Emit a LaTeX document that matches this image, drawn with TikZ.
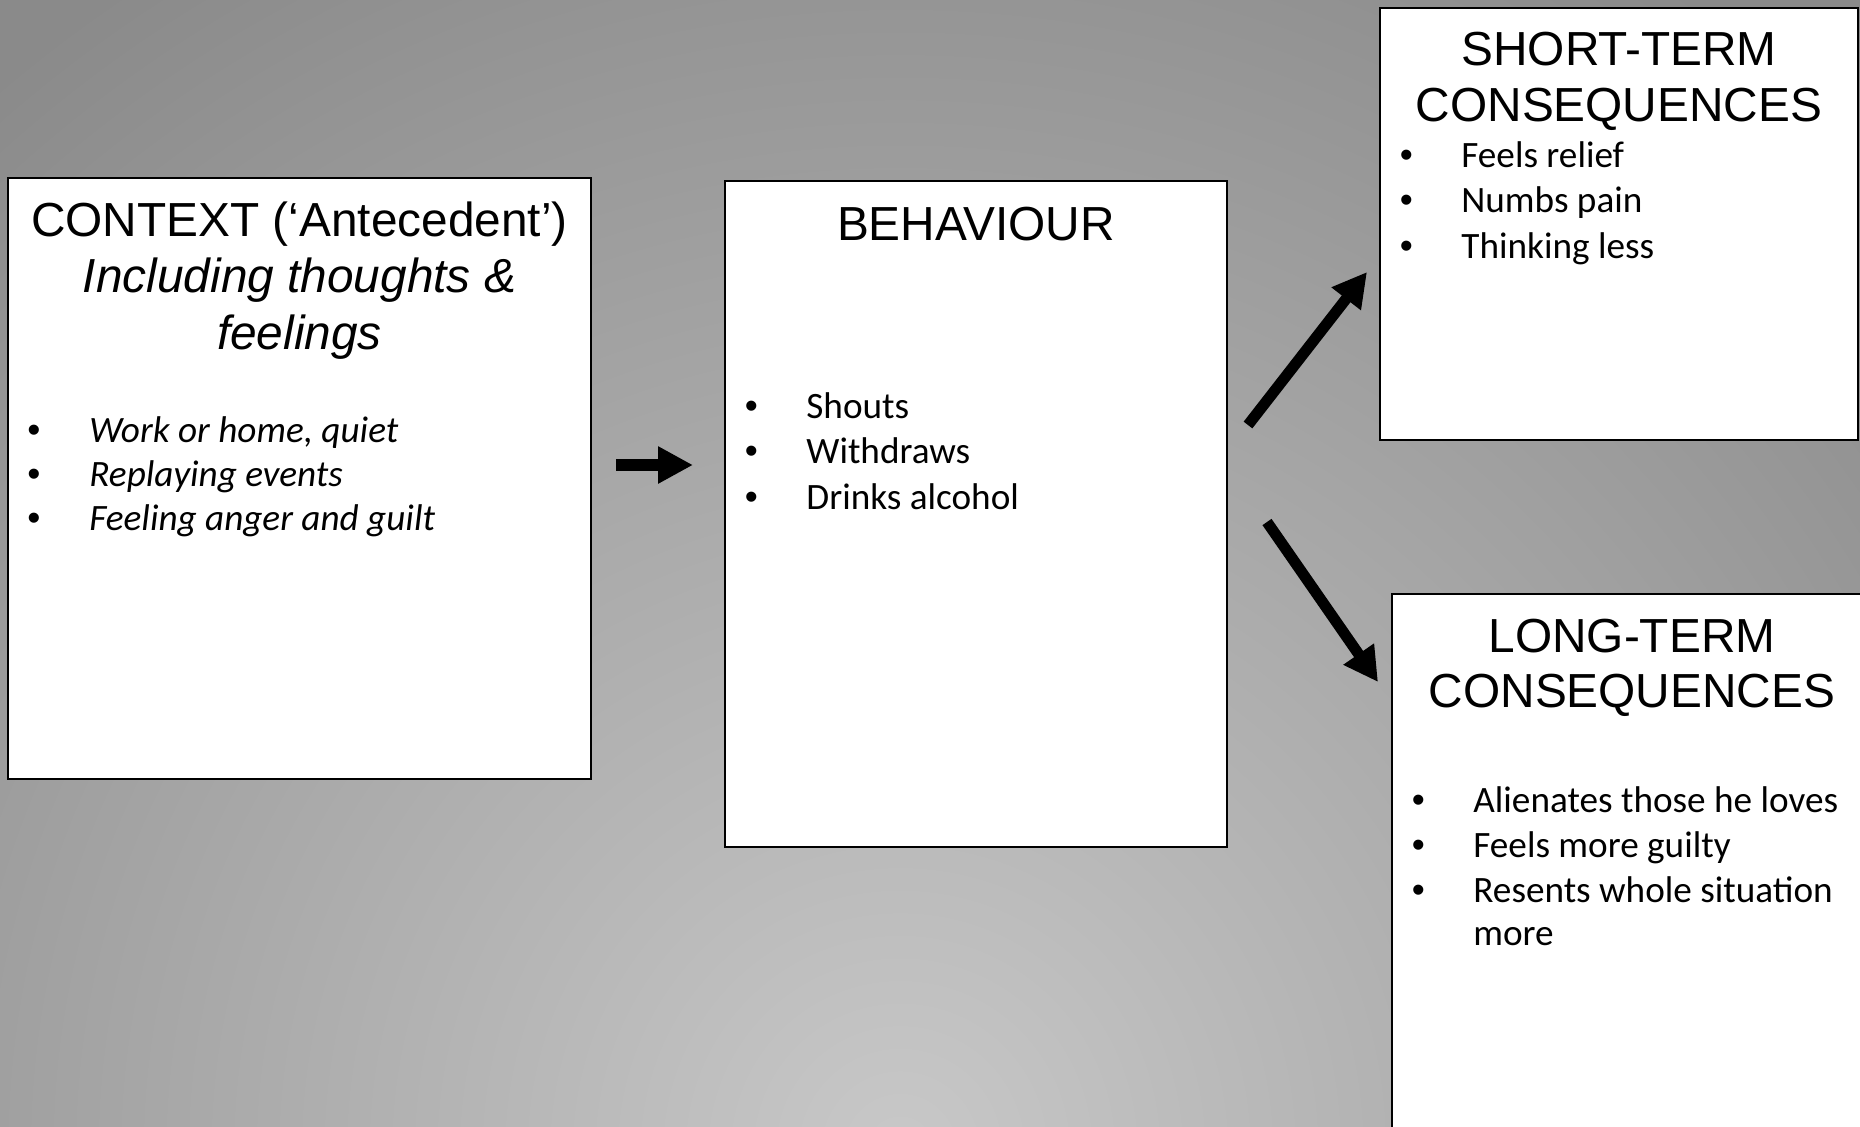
\documentclass[tikz,border=0pt]{standalone}
\usepackage{fontspec}
\setmainfont{Carlito}
\newfontfamily\headfont{Liberation Sans}
\usetikzlibrary{arrows.meta,calc}

\definecolor{bglight}{HTML}{C8C8C8}
\definecolor{bgdark}{HTML}{8A8A8A}

\newcommand{\bul}{\llap{\makebox[0pt][c]{\headfont\textbullet}\hspace{27.5pt}}}

\tikzset{
  box/.style={draw=black, line width=1.4pt, fill=white, anchor=north west, inner sep=0pt, outer sep=0pt},
  head/.style={font=\headfont\fontsize{23.9pt}{28pt}\selectfont, anchor=base, inner sep=0pt},
  headit/.style={head, font=\headfont\itshape\fontsize{23.9pt}{28pt}\selectfont},
  item/.style={font=\fontsize{18.6pt}{22pt}\selectfont, anchor=base west, inner sep=0pt},
  itemit/.style={item, font=\itshape\fontsize{18.6pt}{22pt}\selectfont},
  fatarrow/.style={line width=6pt, -{Triangle[length=17.5pt, width=17.5pt]}},
  slantarrow/.style={line width=5.5pt, -{Triangle[length=17pt, width=17.5pt]}}
}

\begin{document}
\begin{tikzpicture}[x=0.5pt, y=-0.5pt]
    \useasboundingbox (0,0) rectangle (1860,1126);
    \clip (0,0) rectangle (1860,1126);

    % grey background
    \fill[bgdark] (0,0) rectangle (1860,1126);
    \shade[inner color=bglight, outer color=bgdark] (900,1150) circle (1400);

    % Context box
    \node[box, minimum width=291.5pt, minimum height=300.5pt] (ctx) at (8,178) {};
    \node[head] (ctxh1) at ($(ctx.north)+(0,58)$) {CONTEXT (‘Antecedent’)};
    \node[headit] (ctxh2) at ($(ctx.north)+(0,114.5)$) {Including thoughts \&};
    \node[headit] (ctxh3) at ($(ctx.north)+(0,171)$) {feelings};
    \foreach \t [count=\i] in {{Work or home, quiet}, Replaying events, Feeling anger and guilt}
        \node[itemit] (ctx\i) at ($(ctx.north west)+(81,{220+44*\i})$) {\bul\t};

    % Behaviour box
    \node[box, minimum width=251pt, minimum height=333pt] (beh) at (725,181) {};
    \node[head] (behh) at ($(beh.north)+(0,59)$) {BEHAVIOUR};
    \foreach \t [count=\i] in {Shouts, Withdraws, Drinks alcohol}
        \node[item] (beh\i) at ($(beh.north west)+(81,{191.5+45.5*\i})$) {\bul\t};

    % Short-term box
    \node[box, minimum width=239pt, minimum height=216pt] (short) at (1380,8) {};
    \node[head] (shorth1) at ($(short.north)+(0,57)$) {SHORT-TERM};
    \node[head] (shorth2) at ($(short.north)+(0,113)$) {CONSEQUENCES};
    \foreach \t [count=\i] in {Feels relief, Numbs pain, Thinking less}
        \node[item] (short\i) at ($(short.north west)+(81,{113.5+45.5*\i})$) {\bul\t};

    % Long-term box
    \node[box, minimum width=240pt, minimum height=280pt] (long) at (1392,594) {};
    \node[head] (longh1) at ($(long.north)+(0,58)$) {LONG-TERM};
    \node[head] (longh2) at ($(long.north)+(0,113.5)$) {CONSEQUENCES};
    \foreach \t [count=\i] in {Alienates those he loves, Feels more guilty, Resents whole situation}
        \node[item] (long\i) at ($(long.north west)+(81,{173+45*\i})$) {\bul\t};
    \node[item] (long4) at ($(long.north west)+(81,351)$) {more};

    % Arrows
    \draw[fatarrow] ($(ctx.north east)+(25,287)$) -- ($(beh.north west)+(-32,284)$);
    \draw[slantarrow] ($(beh.north east)+(21,244)$) -- ($(short.south west)+(-13,-168)$);
    \draw[slantarrow] ($(beh.north east)+(40,341)$) -- ($(long.north west)+(-14,88)$);
\end{tikzpicture}
\end{document}
